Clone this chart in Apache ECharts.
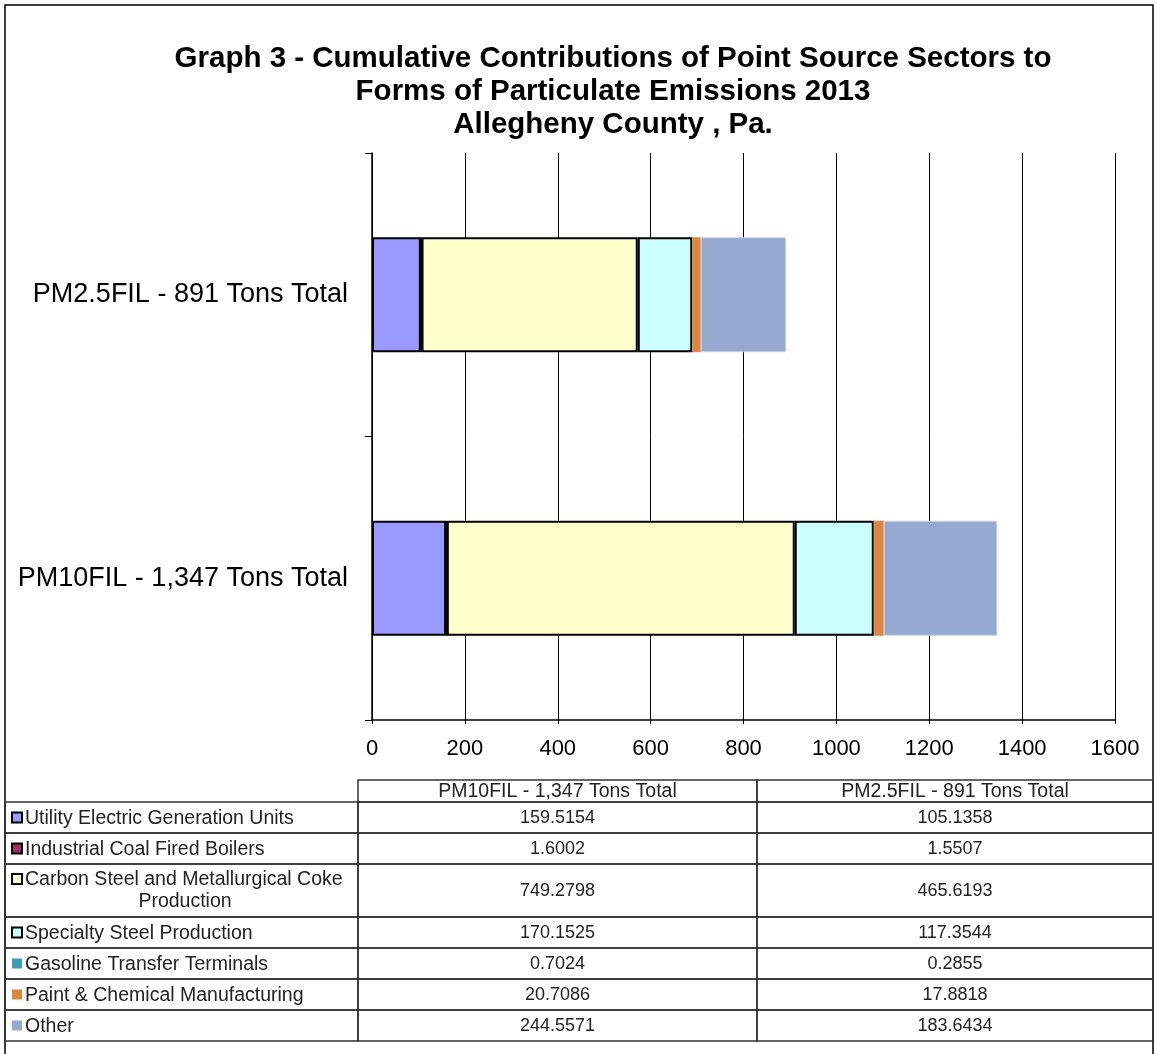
<!DOCTYPE html>
<html>
<head>
<meta charset="utf-8">
<script src="https://cdn.jsdelivr.net/npm/echarts@6/dist/echarts.min.js"></script>
<style>
  html, body { margin: 0; padding: 0; background: #fff; }
  #chart { width: 1156px; height: 1054px; }
</style>
</head>
<body>
<div id="chart"></div>
<script>
// ── Data ──
const categories = ['PM10FIL - 1,347 Tons Total', 'PM2.5FIL - 891 Tons Total'];
const sectors = [
  'Utility Electric Generation Units',
  'Industrial Coal Fired Boilers',
  'Carbon Steel and Metallurgical Coke\nProduction',
  'Specialty Steel Production',
  'Gasoline Transfer Terminals',
  'Paint & Chemical Manufacturing',
  'Other'
];
const pm10 = [159.5154, 1.6002, 749.2798, 170.1525, 0.7024, 20.7086, 244.5571];
const pm25 = [105.1358, 1.5507, 465.6193, 117.3544, 0.2855, 17.8818, 183.6434];
const pm10Text = ['159.5154', '1.6002', '749.2798', '170.1525', '0.7024', '20.7086', '244.5571'];
const pm25Text = ['105.1358', '1.5507', '465.6193', '117.3544', '0.2855', '17.8818', '183.6434'];
const tableHeaders = ['PM10FIL - 1,347 Tons Total', 'PM2.5FIL - 891 Tons Total'];

// ── Styles ──
const colors = ['#9999FF', '#993366', '#FFFFCC', '#CCFFFF', '#3F9CB0', '#DD8640', '#95A9D1'];
const outlined = [true, true, true, true, false, false, false];
const FONT = "'Liberation Sans', Arial, sans-serif";
const TXT = '19.5px ' + FONT;
const NUM = '18px ' + FONT;

// ── Table layout ──
const colX = [5, 358, 757, 1153];
const headerTop = 780;
const headerH = 22;
const rowH = 31, rowH2 = 53;

function buildTable() {
  const els = [];
  const lineStyle = { fill: 'none', stroke: '#333', lineWidth: 1.5 };
  // header cells
  for (let c = 1; c < 3; c++) {
    els.push({ type: 'rect', shape: { x: colX[c], y: headerTop, width: colX[c + 1] - colX[c], height: headerH }, style: lineStyle, silent: true });
    els.push({ type: 'text', x: (colX[c] + colX[c + 1]) / 2, y: headerTop + headerH / 2 + 1,
      style: { text: tableHeaders[c - 1], font: TXT, fill: '#222', align: 'center', verticalAlign: 'middle' } });
  }
  let y = headerTop + headerH;
  sectors.forEach((name, i) => {
    const lines = name.split('\n');
    const h = lines.length > 1 ? rowH2 : rowH;
    for (let c = 0; c < 3; c++) {
      els.push({ type: 'rect', shape: { x: colX[c], y: y, width: colX[c + 1] - colX[c], height: h }, style: lineStyle, silent: true });
    }
    const firstMid = lines.length > 1 ? y + 15 : y + h / 2;
    // legend key
    els.push({ type: 'rect', shape: { x: 12, y: firstMid - 5, width: 10, height: 10 },
      style: { fill: colors[i], stroke: outlined[i] ? '#000' : null, lineWidth: outlined[i] ? 2 : 0 } });
    els.push({ type: 'text', x: 25, y: firstMid + 1,
      style: { text: lines[0], font: TXT, fill: '#222', align: 'left', verticalAlign: 'middle' } });
    for (let k = 1; k < lines.length; k++) {
      els.push({ type: 'text', x: 185, y: firstMid + 1 + k * 22,
        style: { text: lines[k], font: TXT, fill: '#222', align: 'center', verticalAlign: 'middle' } });
    }
    els.push({ type: 'text', x: (colX[1] + colX[2]) / 2, y: y + h / 2 + 1,
      style: { text: pm10Text[i], font: NUM, fill: '#222', align: 'center', verticalAlign: 'middle' } });
    els.push({ type: 'text', x: (colX[2] + colX[3]) / 2, y: y + h / 2 + 1,
      style: { text: pm25Text[i], font: NUM, fill: '#222', align: 'center', verticalAlign: 'middle' } });
    y += h;
  });
  return els;
}

const chart = echarts.init(document.getElementById('chart'));

const series = sectors.map((name, i) => ({
  name: name.replace('\n', ' '),
  type: 'bar',
  stack: 'total',
  barWidth: 115,
  itemStyle: {
    color: colors[i],
    borderColor: outlined[i] ? '#000' : (i === 6 ? '#C6D2EA' : colors[i]),
    borderWidth: outlined[i] ? 2 : (i === 6 ? 1 : 0)
  },
  data: [pm10[i], pm25[i]]
}));

chart.setOption({
  backgroundColor: '#fff',
  animation: false,
  title: {
    text: 'Graph 3 - Cumulative Contributions of Point Source Sectors to\nForms of Particulate Emissions 2013\nAllegheny County , Pa.',
    left: 608,
    top: 37,
    textAlign: 'center',
    textStyle: { fontFamily: FONT, fontSize: 29.5, fontWeight: 'bold', color: '#000', lineHeight: 33 }
  },
  grid: { left: 372, right: 41, top: 153, bottom: 334, containLabel: false },
  xAxis: {
    type: 'value',
    min: 0, max: 1600, interval: 200,
    axisLine: { show: true, lineStyle: { color: '#000', width: 1.5 } },
    axisTick: { show: true, length: 4, lineStyle: { color: '#000' } },
    splitLine: { show: true, lineStyle: { color: '#000', width: 1 } },
    axisLabel: { color: '#000', fontFamily: FONT, fontSize: 22, margin: 18, formatter: v => String(v) }
  },
  yAxis: {
    type: 'category',
    data: categories,
    axisLine: { show: true, lineStyle: { color: '#000', width: 1.5 } },
    axisTick: { show: true, length: 7, lineStyle: { color: '#000' } },
    axisLabel: { color: '#000', fontFamily: FONT, fontSize: 27, margin: 24 }
  },
  series: series,
  graphic: [
    { type: 'rect', shape: { x: 5, y: 5, width: 1148, height: 1100 }, style: { fill: 'none', stroke: '#000', lineWidth: 1.5 }, silent: true },
    ...buildTable()
  ]
});
</script>
</body>
</html>
